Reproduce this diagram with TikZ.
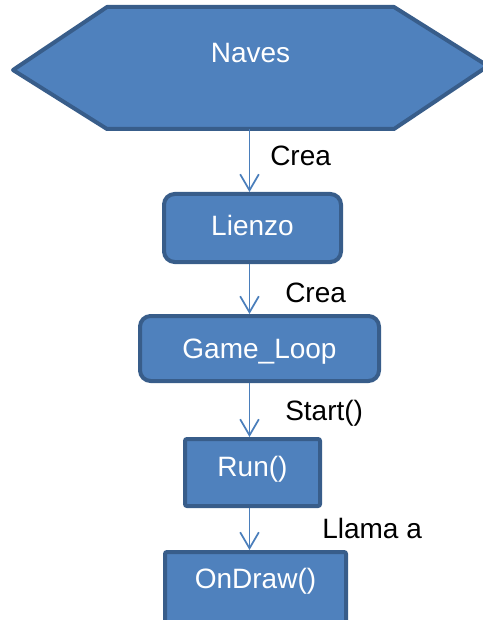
\documentclass[tikz,border=0pt]{standalone}
\usepackage{fontspec}
\setmainfont{Liberation Sans}
\usetikzlibrary{arrows.meta,backgrounds}
\definecolor{boxfill}{HTML}{4F81BD}
\definecolor{boxline}{HTML}{385D8A}
\definecolor{linkline}{HTML}{4A7EBB}

\begin{document}
\begin{tikzpicture}[x=0.75pt,y=-0.75pt,
  every node/.style={font=\fontsize{21}{25}\selectfont},
  blockbox/.style={draw=boxline, fill=boxfill, line width=3pt, text=white,
    inner sep=0pt, text height=15pt, text depth=0pt},
  roundbox/.style={blockbox, rounded corners=8pt},
  hexbody/.style={text=white, inner sep=0pt, outer sep=1.5pt,
    text height=15pt, minimum width=212.25pt, minimum height=88.5pt},
  hexline/.style={draw=boxline, fill=boxfill, line width=3pt, line join=round},
  note/.style={anchor=west, inner sep=0pt, text height=15pt, text depth=0pt},
  link/.style={draw=linkline, line width=1.4pt,
    -{Straight Barb[length=12pt,width=14pt,line width=1.3pt]}}
]
\useasboundingbox (0,0) rectangle (482,620);
\clip (0,0) rectangle (482,620);

% class at the top, drawn as a flat hexagon
\node[hexbody, text depth=22.5pt] (naves) at (250.5,68) {Naves};
\begin{scope}[on background layer]
  \draw[hexline] (naves.north west) -- (naves.north east) -- ++(94,59)
    -- (naves.south east) -- (naves.south west) -- ++(-94,-59) -- cycle;
\end{scope}

% chain of objects
\node[roundbox, minimum width=132.75pt, minimum height=51pt, text depth=3.75pt]
  (lienzo) at (252.5,228) {Lienzo};
\node[roundbox, minimum width=179.25pt, minimum height=48.75pt]
  (gameloop) at (259.5,348.5) {Game\_Loop};
\node[blockbox, rounded corners=1.5pt, minimum width=101.25pt, minimum height=50.25pt, text depth=9pt]
  (run) at (252.5,472.5) {Run()};
\node[blockbox, rounded corners=1.5pt, minimum width=135.75pt, minimum height=58.5pt, text depth=19.5pt]
  (ondraw) at (255.5,591) {OnDraw()};

% vertical axis of the connectors
\coordinate (axis) at (249.5,0);

\draw[link] (naves.south -| axis) -- (lienzo.north -| axis);
\draw[link] (lienzo.south -| axis) -- (gameloop.north -| axis);
\draw[link] (gameloop.south -| axis) -- (run.north -| axis);
\draw[link] (run.south -| axis) -- (ondraw.north -| axis);

% connector labels
\node[note] (crea1) at (270,156) {Crea};
\node[note] (crea2) at (285,292) {Crea};
\node[note] (start) at (285,410) {Start()};
\node[note] (llama) at (322,528) {Llama a};
\end{tikzpicture}
\end{document}
